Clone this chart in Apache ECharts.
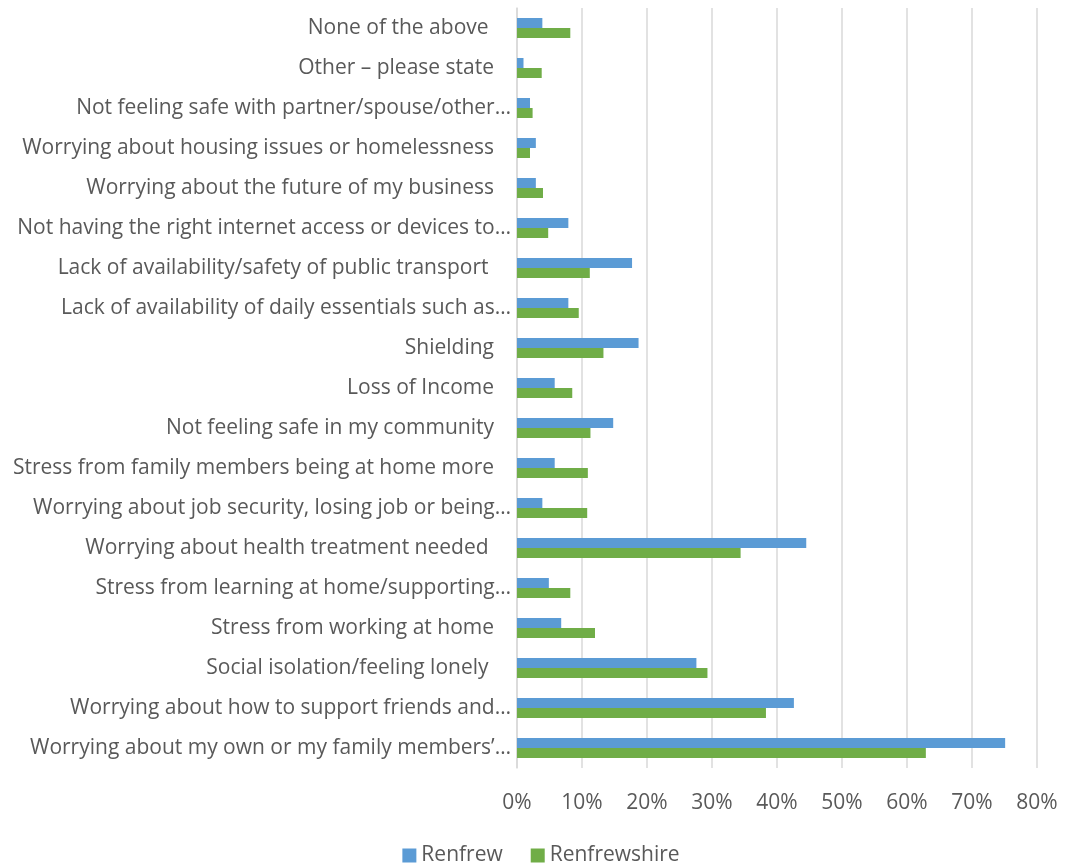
<!DOCTYPE html>
<html><head><meta charset="utf-8">
<script src="https://cdn.jsdelivr.net/npm/echarts@6/dist/echarts.min.js"></script>
<style>html,body{margin:0;padding:0;background:#fff}#c{width:1082px;height:865px}</style>
</head><body><div id="c"></div>
<script>
const categories = [
  "None of the above ",
  "Other \u2013 please state",
  "Not feeling safe with partner/spouse/other\u2026",
  "Worrying about housing issues or homelessness",
  "Worrying about the future of my business",
  "Not having the right internet access or devices to\u2026",
  "Lack of availability/safety of public transport ",
  "Lack of availability of daily essentials such as\u2026",
  "Shielding",
  "Loss of Income",
  "Not feeling safe in my community",
  "Stress from family members being at home more",
  "Worrying about job security, losing job or being\u2026",
  "Worrying about health treatment needed ",
  "Stress from learning at home/supporting\u2026",
  "Stress from working at home",
  "Social isolation/feeling lonely ",
  "Worrying about how to support friends and\u2026",
  "Worrying about my own or my family members\u2019\u2026"
];
const renfrew = [3.9, 1.0, 2.0, 2.9, 2.9, 7.9, 17.7, 7.9, 18.7, 5.8, 14.8, 5.8, 3.9, 44.5, 4.9, 6.8, 27.6, 42.6, 75.1];
const renfrewshire = [8.2, 3.8, 2.4, 2.0, 4.0, 4.8, 11.2, 9.5, 13.3, 8.5, 11.3, 10.9, 10.8, 34.4, 8.2, 12.0, 29.3, 38.3, 62.9];
const seriesNames = ["Renfrew", "Renfrewshire"];
const xTicks = { min: 0, max: 80, interval: 10 };

const font = "'Open Sans', sans-serif";
const catData = categories.map(c => c.endsWith('\u2026')
  ? { value: c, textStyle: { padding: [4, -17, 0, 0] } }
  : c);
const chart = echarts.init(document.getElementById('c'));
chart.setOption({
  animation: false,
  textStyle: { fontFamily: font },
  grid: { left: 517, right: 45, top: 8, bottom: 97, containLabel: false },
  legend: {
    top: 840, left: 'center',
    itemWidth: 14, itemHeight: 14, itemGap: 28,
    icon: 'rect',
    textStyle: { fontSize: 21, color: '#595959', fontFamily: font },
    data: seriesNames
  },
  xAxis: {
    type: 'value', min: xTicks.min, max: xTicks.max, interval: xTicks.interval,
    axisLine: { show: false }, axisTick: { show: false },
    splitLine: { lineStyle: { color: '#d9d9d9', width: 1.5 } },
    axisLabel: { formatter: '{value}%', fontSize: 21, color: '#595959', margin: 25, fontFamily: font }
  },
  yAxis: {
    type: 'category', inverse: true, data: catData,
    axisLine: { lineStyle: { color: '#d9d9d9', width: 1.5 } },
    axisTick: { show: false },
    axisLabel: { fontSize: 21, color: '#595959', margin: 23, padding: [4, 0, 0, 0], fontFamily: font }
  },
  series: [
    { name: seriesNames[0], type: 'bar', data: renfrew, itemStyle: { color: '#5B9BD5' }, barGap: '0%', barCategoryGap: '50%' },
    { name: seriesNames[1], type: 'bar', data: renfrewshire, itemStyle: { color: '#70AD47' }, barGap: '0%', barCategoryGap: '50%' }
  ]
});
</script></body></html>
